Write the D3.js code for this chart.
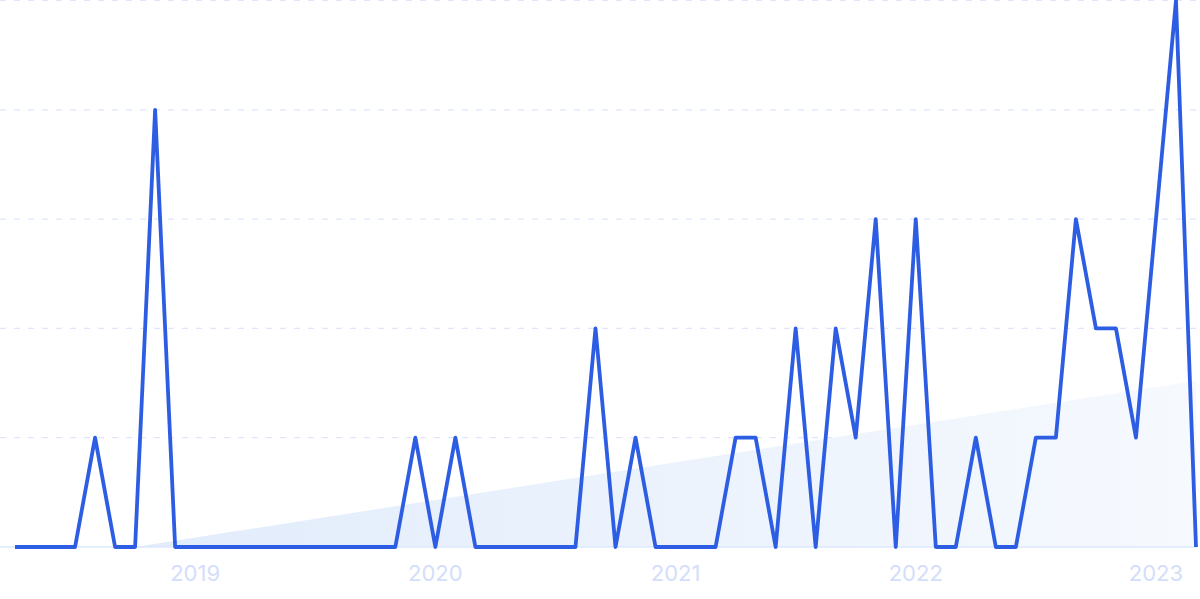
<!DOCTYPE html>
<html>
<head>
<meta charset="utf-8">
<script src="https://cdn.jsdelivr.net/npm/d3@7"></script>
<style>
  html, body { margin: 0; padding: 0; background: #ffffff; }
  svg { display: block; }
</style>
</head>
<body>
<svg id="chart" width="1200" height="599"></svg>
<script>
// Monthly values, April 2018 .. March 2023
const months = [
  "2018-04","2018-05","2018-06","2018-07","2018-08","2018-09","2018-10","2018-11","2018-12",
  "2019-01","2019-02","2019-03","2019-04","2019-05","2019-06","2019-07","2019-08","2019-09","2019-10","2019-11","2019-12",
  "2020-01","2020-02","2020-03","2020-04","2020-05","2020-06","2020-07","2020-08","2020-09","2020-10","2020-11","2020-12",
  "2021-01","2021-02","2021-03","2021-04","2021-05","2021-06","2021-07","2021-08","2021-09","2021-10","2021-11","2021-12",
  "2022-01","2022-02","2022-03","2022-04","2022-05","2022-06","2022-07","2022-08","2022-09","2022-10","2022-11","2022-12",
  "2023-01","2023-02","2023-03"
];
const values = [
  0,0,0,0,1,0,0,4,0,
  0,0,0,0,0,0,0,0,0,0,0,1,
  0,1,0,0,0,0,0,0,2,0,1,0,
  0,0,0,1,1,0,2,0,2,1,3,0,
  3,0,0,1,0,0,1,1,3,2,2,1,
  3,5,0
];
const yTicks = [0,1,2,3,4,5];
const yearTicks = ["2019","2020","2021","2022","2023"];
// trend line endpoints (month, value)
const trendMonths = ["2018-10","2023-03"];
const trendValues = [0, 1.52];

const parse = d3.timeParse("%Y-%m");
const data = months.map((m,i) => ({idx: i, date: parse(m), value: values[i]}));
const idxOf = m => months.indexOf(m);
const trend = trendMonths.map((m,i) => ({idx: idxOf(m), value: trendValues[i]}));

const svg = d3.select("#chart");
// evenly spaced monthly points
const x = d3.scaleLinear()
  .domain([0, months.length - 1])
  .range([15, 1196]);
const y = d3.scaleLinear().domain([0,5]).range([547, 0.5]);

// gradient for trend area
const defs = svg.append("defs");
const grad = defs.append("linearGradient").attr("id","trendGrad")
  .attr("x1","0%").attr("x2","100%").attr("y1","0%").attr("y2","0%");
grad.append("stop").attr("offset","0%").attr("stop-color","#e1ecfb");
grad.append("stop").attr("offset","100%").attr("stop-color","#f6f9fe");

// gridlines
svg.append("g").selectAll("line")
  .data(yTicks.filter(t => t > 0))
  .join("line")
  .attr("x1", 0).attr("x2", 1197)
  .attr("y1", d => y(d)).attr("y2", d => y(d))
  .attr("stroke", "#dde6fb")
  .attr("stroke-width", 1.2)
  .attr("stroke-dasharray", "6,8");

// trend area
svg.append("path")
  .datum(trend)
  .attr("fill", "url(#trendGrad)")
  .attr("d", d3.area().x(d => x(d.idx)).y0(y(0)).y1(d => y(d.value)));

// baseline
svg.append("line")
  .attr("x1", 0).attr("x2", 1197)
  .attr("y1", y(0)).attr("y2", y(0))
  .attr("stroke", "#dce8fb").attr("stroke-width", 1.5);

// x-axis labels
svg.append("g").selectAll("text")
  .data(yearTicks)
  .join("text")
  .attr("x", d => x(idxOf(d + "-01")))
  .attr("y", 581)
  .attr("text-anchor", "middle")
  .attr("font-family", "Inter, 'Open Sans', sans-serif")
  .attr("font-size", 22)
  .attr("fill", "#d3defa")
  .text(d => d);

// main line
svg.append("path")
  .datum(data)
  .attr("fill", "none")
  .attr("stroke", "#2d5de3")
  .attr("stroke-width", 3.8)
  .attr("stroke-linejoin", "round")
  .attr("d", d3.line().x(d => x(d.idx)).y(d => y(d.value)));
</script>
</body>
</html>
